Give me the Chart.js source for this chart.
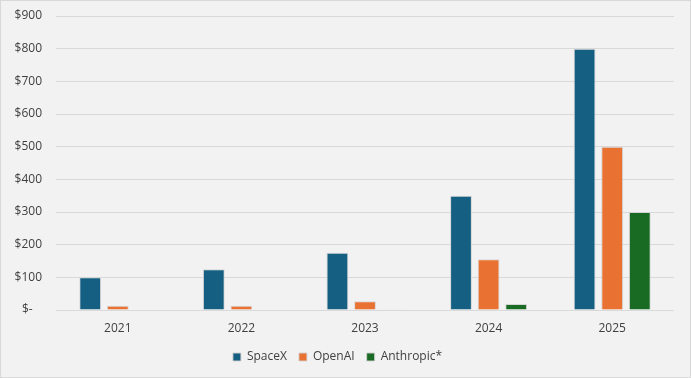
<!DOCTYPE html>
<html>
<head>
<meta charset="utf-8">
<script src="https://cdn.jsdelivr.net/npm/chart.js@4"></script>
<style>
  html, body { margin: 0; padding: 0; background: #f2f2f2; }
  .frame {
    position: absolute; left: 0; top: 0;
    width: 691px; height: 378px;
    box-sizing: border-box;
    border: 1px solid #d9d9d9;
    background: #f2f2f2;
  }
  canvas { display: block; }
</style>
</head>
<body>
<div class="frame"><canvas id="chart" width="689" height="376"></canvas></div>
<script>
// data
const years = ['2021', '2022', '2023', '2024', '2025'];
const spacex = [100, 125, 175, 350, 800];
const openai = [13, 13, 27, 155, 500];
const anthropic = [0, 0, 1, 18, 300];
const yTicks = [0, 100, 200, 300, 400, 500, 600, 700, 800, 900];

const FONT = "'Open Sans', 'Liberation Sans', sans-serif";
const TEXT = '#404040';

function barSet(label, data, color) {
    return {
        label,
        data,
        backgroundColor: color,
        borderColor: 'rgba(210,210,210,0.9)',
        borderWidth: 1,
        categoryPercentage: 0.67,
        barPercentage: 0.79
    };
}

new Chart(document.getElementById('chart'), {
    type: 'bar',
    data: {
        labels: years,
        datasets: [
            barSet('SpaceX', spacex, '#156082'),
            barSet('OpenAI', openai, '#e97132'),
            barSet('Anthropic*', anthropic, '#196b24')
        ]
    },
    options: {
        responsive: false,
        animation: false,
        layout: { padding: { left: 0, right: 16, top: 15, bottom: 4 } },
        plugins: {
            tooltip: { enabled: false },
            legend: {
                position: 'bottom',
                labels: {
                    boxWidth: 8,
                    boxHeight: 8,
                    padding: 12,
                    color: TEXT,
                    font: { family: FONT, size: 12 }
                }
            }
        },
        scales: {
            x: {
                grid: { display: false },
                border: { display: false },
                ticks: { color: TEXT, font: { family: FONT, size: 12 }, padding: 3 },
                afterFit: (scale) => { scale.height = 29; }
            },
            y: {
                min: 0,
                max: 900,
                afterBuildTicks: (scale) => { scale.ticks = yTicks.map(v => ({ value: v })); },
                afterFit: (scale) => {
                    scale.width = 55;
                    scale.paddingTop = 0;
                    scale.paddingBottom = 0;
                },
                grid: { color: '#d9d9d9', lineWidth: 1, drawTicks: false },
                border: { display: false },
                ticks: {
                    color: TEXT,
                    font: { family: FONT, size: 12 },
                    padding: 14,
                    callback: (v) => v === 0 ? '$-   ' : '$' + v
                }
            }
        }
    }
});
</script>
</body>
</html>
